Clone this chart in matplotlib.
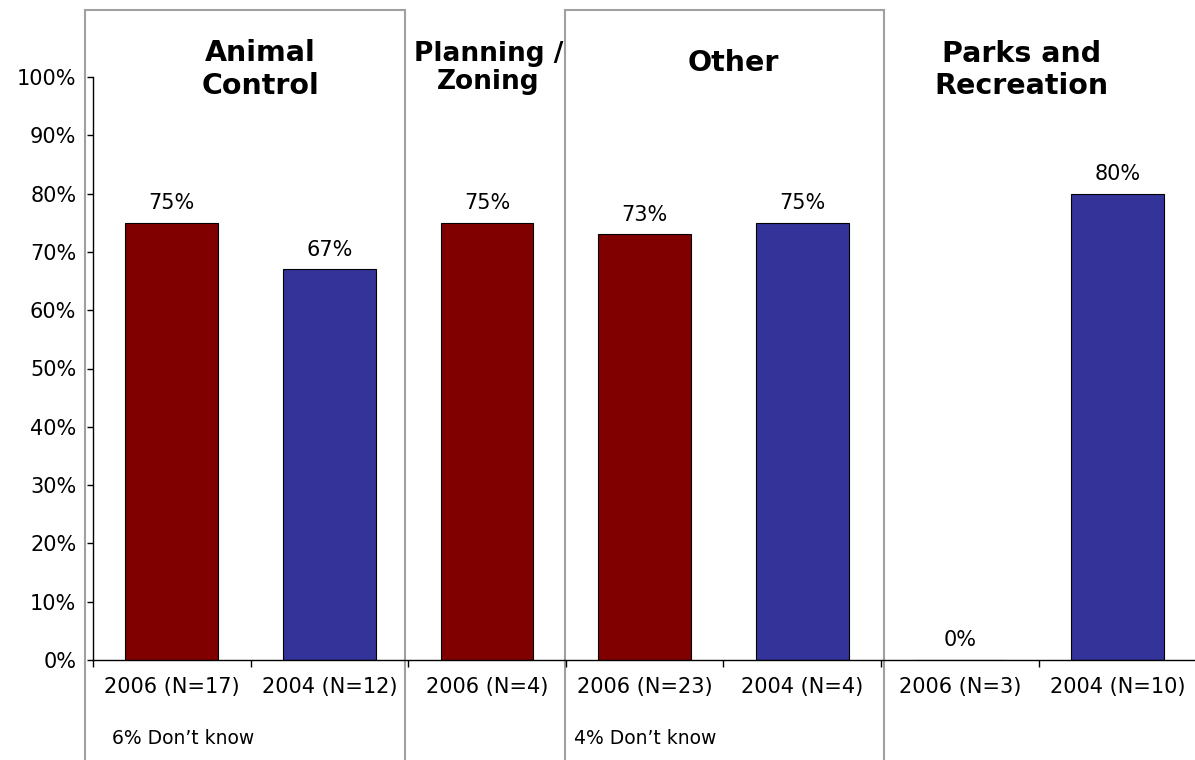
import matplotlib
matplotlib.use("Agg")
import matplotlib.pyplot as plt
import matplotlib.transforms as mtransforms
from matplotlib.patches import Rectangle
import numpy as np

# Survey groups and results
categories = ["2006 (N=17)", "2004 (N=12)", "2006 (N=4)", "2006 (N=23)",
              "2004 (N=4)", "2006 (N=3)", "2004 (N=10)"]
values = [75, 67, 75, 73, 75, 0, 80]
years = ["2006", "2004", "2006", "2006", "2004", "2006", "2004"]
year_colors = {"2006": "#800000", "2004": "#333399"}

groups = ["Animal\nControl", "Planning /\nZoning", "Other", "Parks and\nRecreation"]
group_centers = [1.06, 2.51, 4.06, 5.89]
group_title_y = [1 - 69.5 / 760, 1 - 68 / 760, 1 - 63 / 760, 1 - 70 / 760]
group_sizes = [20.5, 19, 20.5, 20.5]
group_spacing = [1.22, 1.12, 1.0, 1.22]

notes = ["6% Don\u2019t know", "4% Don\u2019t know"]
note_x = [0.12, 3.05]

W, H = 1195, 760
fig = plt.figure(figsize=(W / 100, H / 100), dpi=100)
ax = fig.add_axes([93 / W, 1 - 660 / H, (W - 93) / W + 0.001, (660 - 77) / H])
ax.patch.set_visible(False)

x = np.arange(len(categories)) + 0.5
bar_colors = [year_colors[y] for y in years]
ax.bar(x, values, width=0.59, color=bar_colors, edgecolor="black", linewidth=0.8)

for xi, v in zip(x, values):
    ax.annotate(f"{v}%", (xi, v), xytext=(0, 7), textcoords="offset points",
                ha="center", va="bottom", fontsize=15)

ax.set_xlim(0, len(categories))
ax.set_ylim(0, 100)
ax.set_yticks(np.arange(0, 101, 10))
ax.set_yticklabels([f"{t}%" for t in range(0, 101, 10)])
ax.set_xticks(x)
ax.set_xticklabels(categories)
ax.set_xticks(np.arange(0, len(categories) + 1), minor=True)
ax.tick_params(axis="x", which="major", length=0, pad=12, labelsize=15)
ax.tick_params(axis="x", which="minor", length=5, width=1, direction="out")
ax.tick_params(axis="y", length=4, width=1, direction="out", pad=8, labelsize=15)

for s in ["top", "right"]:
    ax.spines[s].set_visible(False)
ax.spines["left"].set_linewidth(1)
ax.spines["bottom"].set_linewidth(1)

# Grey frames around alternating groups
for x0, x1 in [(85, 405), (565, 884)]:
    fig.add_artist(Rectangle((x0 / W, -0.02), (x1 - x0) / W, 1.02 - 10 / H,
                             transform=fig.transFigure, fill=False,
                             edgecolor="#a0a0a0", linewidth=1.5, zorder=0))

trans = mtransforms.blended_transform_factory(ax.transData, fig.transFigure)
for name, cx, ty, fs, ls in zip(groups, group_centers, group_title_y,
                                group_sizes, group_spacing):
    ax.text(cx, ty, name, transform=trans, ha="center", va="center",
            fontsize=fs, fontweight="bold", linespacing=ls, clip_on=False)

for note, nx in zip(notes, note_x):
    ax.text(nx, 1 - 738 / H, note, transform=trans, ha="left", va="center",
            fontsize=13.5, clip_on=False)

fig.savefig("out.png", dpi=100)
